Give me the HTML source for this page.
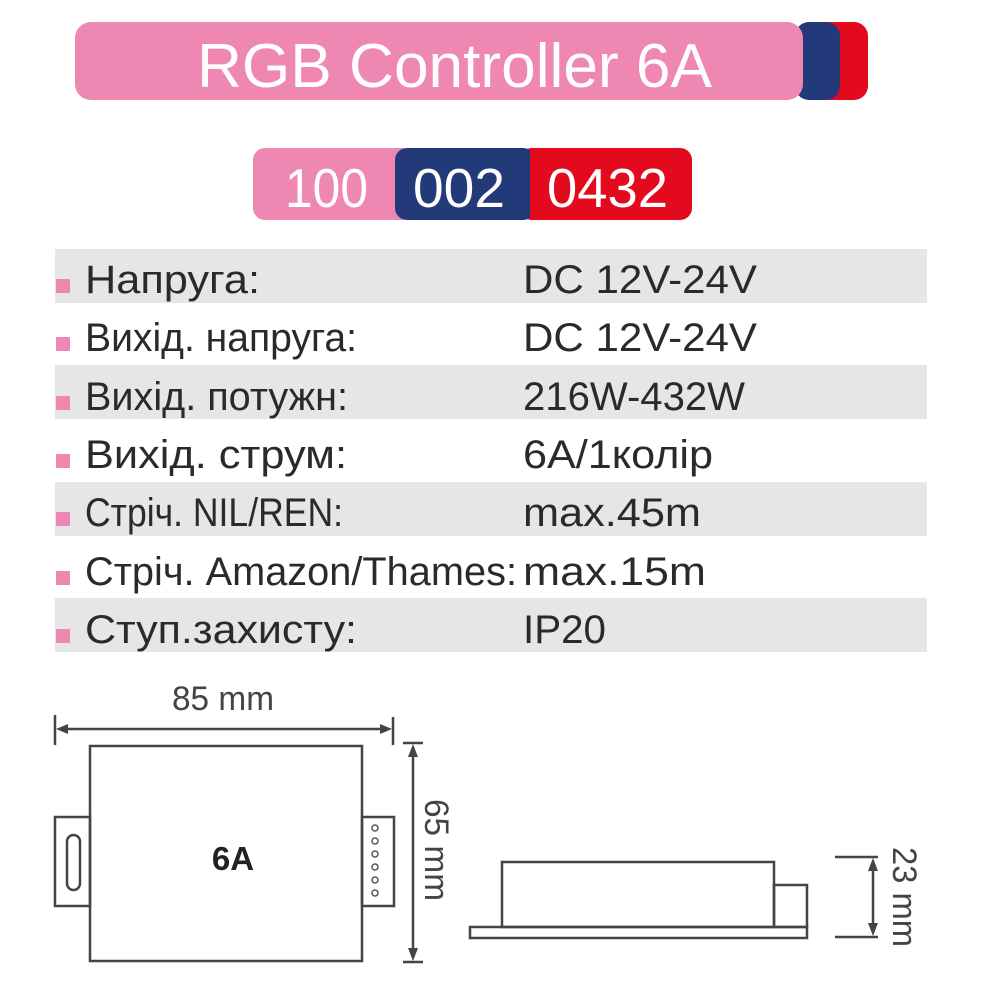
<!DOCTYPE html>
<html><head><meta charset="utf-8"><style>
html,body{margin:0;padding:0;background:#fff;}
svg{display:block}
text{font-family:"Liberation Sans",sans-serif;}
</style></head><body>
<svg width="1000" height="1000" viewBox="0 0 1000 1000" xmlns="http://www.w3.org/2000/svg">
<rect x="800" y="22" width="68" height="78" rx="14" fill="#e30a1e"/>
<rect x="795" y="22" width="45" height="78" rx="14" fill="#233a7a"/>
<rect x="75" y="22" width="728" height="78" rx="16" fill="#ee87b1"/>
<text x="197" y="87" font-size="62" fill="#fff" textLength="515" lengthAdjust="spacingAndGlyphs">RGB Controller 6A</text>
<rect x="253" y="148" width="160" height="72" rx="12" fill="#ee87b1"/>
<rect x="520" y="148" width="172" height="72" rx="12" fill="#e30a1e"/>
<rect x="395" y="148" width="140" height="72" rx="12" fill="#233a7a"/>
<rect x="530" y="148" width="20" height="72" fill="#e30a1e"/>
<text x="285" y="207" font-size="55" fill="#fff" textLength="83" lengthAdjust="spacingAndGlyphs">100</text>
<text x="413" y="207" font-size="55" fill="#fff" textLength="92" lengthAdjust="spacingAndGlyphs">002</text>
<text x="547" y="207" font-size="55" fill="#fff" textLength="121" lengthAdjust="spacingAndGlyphs">0432</text>
<g fill="#e6e6e6">
<rect x="55" y="249" width="872" height="54"/>
<rect x="55" y="365" width="872" height="54"/>
<rect x="55" y="482" width="872" height="54"/>
<rect x="55" y="598" width="872" height="54"/>
</g>
<g fill="#ee87b1">
<rect x="56" y="279" width="14" height="14"/>
<rect x="56" y="337" width="14" height="14"/>
<rect x="56" y="396" width="14" height="14"/>
<rect x="56" y="454" width="14" height="14"/>
<rect x="56" y="512" width="14" height="14"/>
<rect x="56" y="571" width="14" height="14"/>
<rect x="56" y="629" width="14" height="14"/>
</g>
<g font-size="40" fill="#2a2a2a">
<text x="85" y="293" textLength="175" lengthAdjust="spacingAndGlyphs">Напруга:</text>
<text x="85" y="351" textLength="272" lengthAdjust="spacingAndGlyphs">Вихід. напруга:</text>
<text x="85" y="410" textLength="263" lengthAdjust="spacingAndGlyphs">Вихід. потужн:</text>
<text x="85" y="468" textLength="262" lengthAdjust="spacingAndGlyphs">Вихід. струм:</text>
<text x="85" y="526" textLength="258" lengthAdjust="spacingAndGlyphs">Стріч. NIL/REN:</text>
<text x="85" y="585" textLength="432" lengthAdjust="spacingAndGlyphs">Стріч. Amazon/Thames:</text>
<text x="85" y="643" textLength="272" lengthAdjust="spacingAndGlyphs">Ступ.захисту:</text>
<text x="523" y="293" textLength="234" lengthAdjust="spacingAndGlyphs">DC 12V-24V</text>
<text x="523" y="351" textLength="234" lengthAdjust="spacingAndGlyphs">DC 12V-24V</text>
<text x="523" y="410" textLength="222" lengthAdjust="spacingAndGlyphs">216W-432W</text>
<text x="523" y="468" textLength="190" lengthAdjust="spacingAndGlyphs">6A/1колір</text>
<text x="523" y="526" textLength="178" lengthAdjust="spacingAndGlyphs">max.45m</text>
<text x="523" y="585" textLength="183" lengthAdjust="spacingAndGlyphs">max.15m</text>
<text x="523" y="643" textLength="83" lengthAdjust="spacingAndGlyphs">IP20</text>
</g>
<g stroke="#444" stroke-width="2.5" fill="none">
<line x1="55" y1="715" x2="55" y2="745"/>
<line x1="393" y1="717" x2="393" y2="745"/>
<line x1="60" y1="729" x2="388" y2="729"/>
<rect x="90" y="746" width="272" height="215" fill="#fff"/>
<rect x="55" y="817" width="35" height="89"/>
<rect x="67" y="835" width="13" height="55" rx="6.5"/>
<rect x="362" y="817" width="32" height="89"/>
<line x1="403" y1="743" x2="423" y2="743"/>
<line x1="403" y1="962" x2="423" y2="962"/>
<line x1="413" y1="748" x2="413" y2="957"/>
</g>
<g fill="#444">
<polygon points="56,729 68,724 68,734"/>
<polygon points="392,729 380,724 380,734"/>
<polygon points="413,744 408,757 418,757"/>
<polygon points="413,961 408,948 418,948"/>
</g>
<g stroke="#555" stroke-width="1.5" fill="none">
<circle cx="375" cy="828" r="3"/><circle cx="375" cy="841" r="3"/><circle cx="375" cy="854" r="3"/>
<circle cx="375" cy="867" r="3"/><circle cx="375" cy="880" r="3"/><circle cx="375" cy="893" r="3"/>
</g>
<text x="172" y="710" font-size="34" fill="#444" textLength="102" lengthAdjust="spacingAndGlyphs">85 mm</text>
<text x="233" y="870" font-size="33" font-weight="bold" fill="#222" text-anchor="middle">6A</text>
<text transform="translate(425,850) rotate(90)" font-size="34" fill="#444" text-anchor="middle" textLength="102" lengthAdjust="spacingAndGlyphs">65 mm</text>
<g stroke="#444" stroke-width="2.5" fill="none">
<rect x="470" y="927" width="337" height="11"/>
<rect x="502" y="862" width="272" height="65"/>
<rect x="774" y="885" width="33" height="42"/>
<line x1="835" y1="857" x2="878" y2="857"/>
<line x1="835" y1="937" x2="878" y2="937"/>
<line x1="873" y1="862" x2="873" y2="932"/>
</g>
<g fill="#444">
<polygon points="873,858 868,871 878,871"/>
<polygon points="873,936 868,923 878,923"/>
</g>
<text transform="translate(893,897) rotate(90)" font-size="34" fill="#444" text-anchor="middle" textLength="100" lengthAdjust="spacingAndGlyphs">23 mm</text>
</svg>
</body></html>
